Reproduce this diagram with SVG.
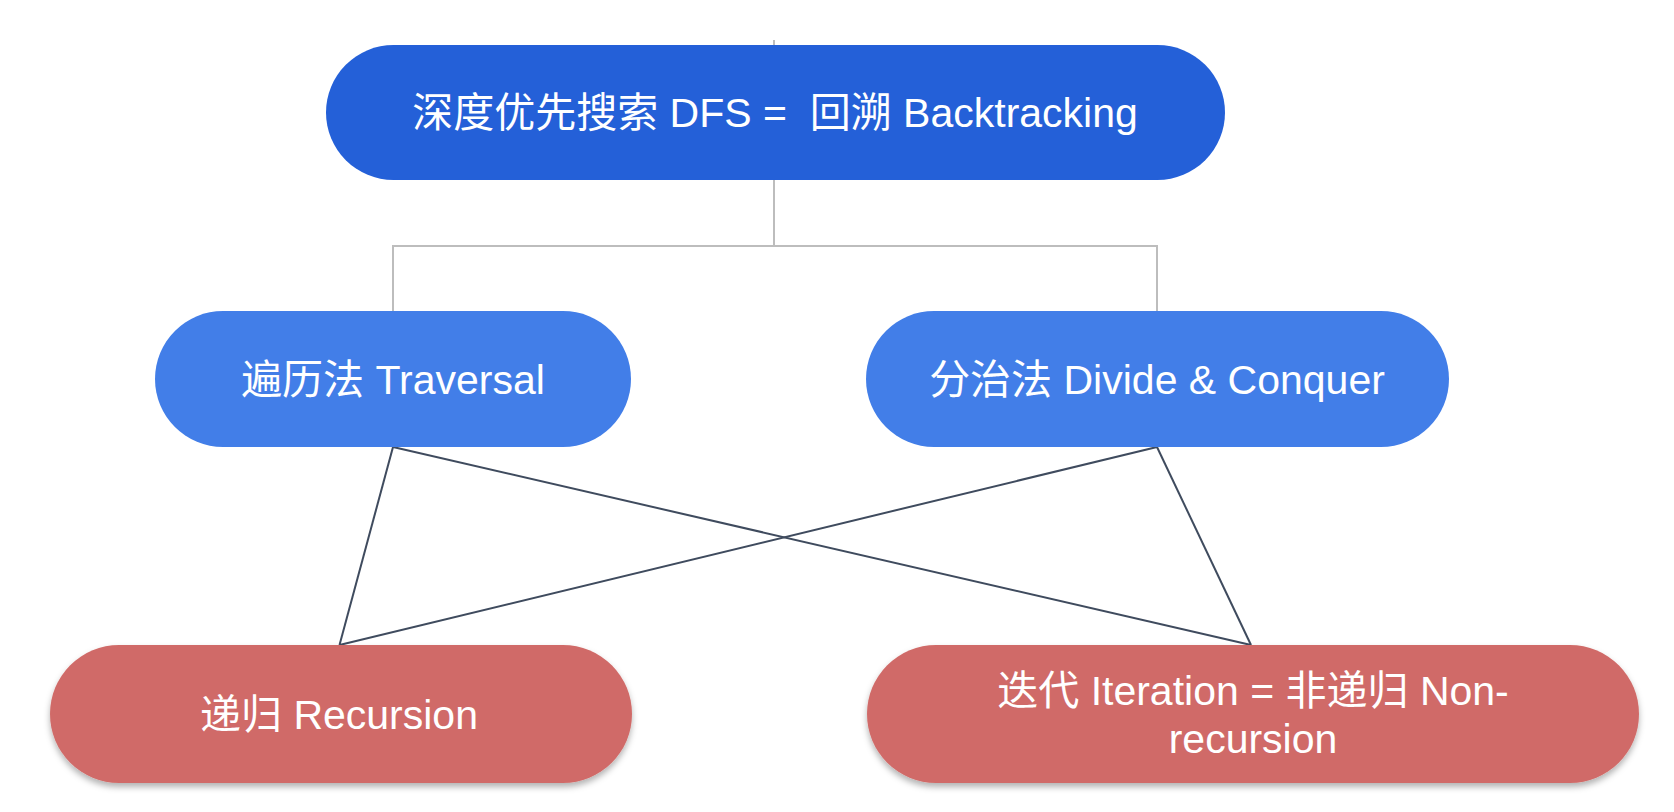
<svg xmlns="http://www.w3.org/2000/svg" width="1674" height="812" viewBox="0 0 1674 812">
<defs>
<style>
.lbl{font-family:"Liberation Sans","Noto Sans CJK SC",Arial,sans-serif;font-size:41px;fill:#ffffff;text-anchor:middle}
.tree{fill:none;stroke:#bdbdbd;stroke-width:2}
.edge{fill:none;stroke:#3f4b5e;stroke-width:2}
</style>
<filter id="sh" x="-10%" y="-20%" width="120%" height="150%">
<feDropShadow dx="0" dy="4" stdDeviation="3" flood-color="#000000" flood-opacity="0.3"/>
</filter>
</defs>
<rect width="1674" height="812" fill="#ffffff"/>
<g id="connectors">
<line class="tree" x1="774" y1="40" x2="774" y2="45"/>
<polyline class="tree" points="774,180 774,246 393,246 393,311"/>
<polyline class="tree" points="774,246 1157,246 1157,311"/>
<line class="edge" x1="393" y1="447" x2="339.5" y2="645"/>
<line class="edge" x1="393" y1="447" x2="1251" y2="645"/>
<line class="edge" x1="1157" y1="447" x2="339.5" y2="645"/>
<line class="edge" x1="1157" y1="447" x2="1251" y2="645"/>
</g>
<g id="node-dfs">
<rect x="326" y="45" width="899" height="135" rx="67.5" fill="#2460d8"/>
<text class="lbl" x="775" y="127" xml:space="preserve">深度优先搜索 DFS =  回溯 Backtracking</text>
</g>
<g id="node-traversal">
<rect x="155" y="311" width="476" height="136" rx="68" fill="#427ee8"/>
<text class="lbl" x="393" y="394">遍历法 Traversal</text>
</g>
<g id="node-divide">
<rect x="866" y="311" width="583" height="136" rx="68" fill="#427ee8"/>
<text class="lbl" x="1157" y="394">分治法 Divide &amp; Conquer</text>
</g>
<g id="node-recursion">
<rect x="50" y="645" width="582" height="138" rx="69" fill="#d06b68" filter="url(#sh)"/>
<text class="lbl" x="339" y="729">递归 Recursion</text>
</g>
<g id="node-iteration">
<rect x="867" y="645" width="772" height="138" rx="69" fill="#d06b68" filter="url(#sh)"/>
<text class="lbl" x="1253" y="705">迭代 Iteration = 非递归 Non-</text>
<text class="lbl" x="1253" y="753">recursion</text>
</g>
</svg>
